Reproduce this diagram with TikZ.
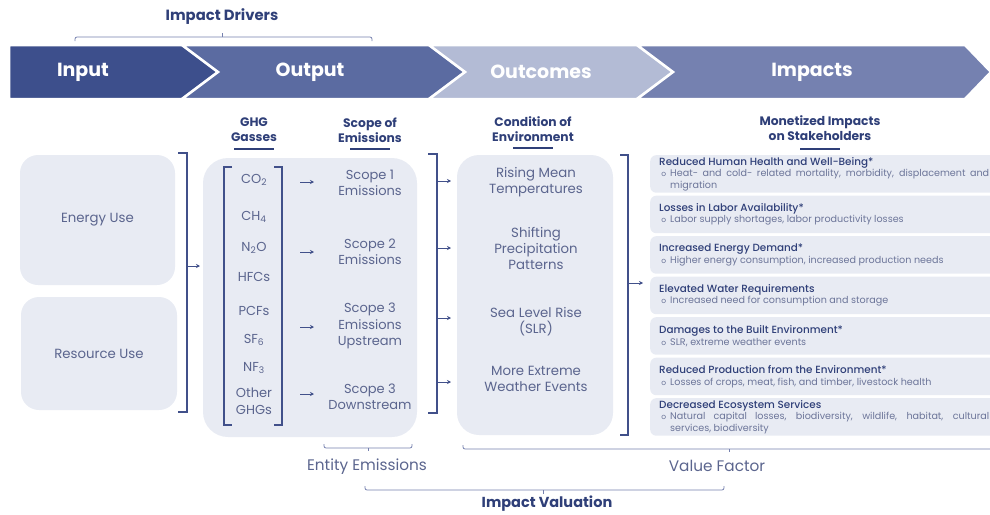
\documentclass[tikz,border=0pt]{standalone}
\usepackage{fontspec}
\setmainfont{Poppins}
\newfontfamily\medfont{Poppins Medium}
\usetikzlibrary{arrows.meta}

\definecolor{inputblue}{HTML}{3D4F8C}
\definecolor{outputblue}{HTML}{5B6BA1}
\definecolor{outcomeblue}{HTML}{B3BBD5}
\definecolor{impactblue}{HTML}{7581B0}
\definecolor{boxfill}{HTML}{E8EBF3}
\definecolor{navy}{HTML}{2F3F78}
\definecolor{bodytext}{HTML}{5B658E}
\definecolor{bullettext}{HTML}{6C7599}
\definecolor{bracketline}{HTML}{41508A}
\definecolor{braceline}{HTML}{7580AE}

\begin{document}
\begin{tikzpicture}[x=1pt, y=-1pt,
    chevron/.style={draw=white, line width=2.5pt},
    bannertext/.style={text=white, font=\bfseries\fontsize{19}{21}\selectfont},
    header/.style={text=navy, font=\bfseries\fontsize{12.3}{15}\selectfont, align=center},
    uline/.style={navy, line width=1.4pt},
    box/.style={fill=boxfill, rounded corners=18pt, inner sep=0pt},
    boxtext/.style={text=bodytext, font=\fontsize{13.3}{16}\selectfont, align=center},
    gas/.style={text=bodytext, font=\fontsize{13}{16.5}\selectfont, align=center, inner sep=0pt},
    brk/.style={bracketline, line width=1.1pt},
    arr/.style={bracketline, line width=0.9pt, -{Stealth[length=4pt, width=4pt]}},
    brace/.style={braceline, line width=0.8pt, rounded corners=2pt},
    impbox/.style={fill=boxfill, rounded corners=6pt, inner sep=0pt},
    imptext/.style={text width=330pt, align=justify, text=bullettext, inner sep=0pt,
                    font=\fontsize{9.6}{11.6}\selectfont, anchor=west},
    bottomtext/.style={text=bodytext, font=\fontsize{15.3}{17}\selectfont},
]
\useasboundingbox (0,0) rectangle (990,514);
\clip (0,0) rectangle (990,514);

% Banner of four chevrons
\filldraw[chevron, fill=inputblue] (9,45) -- (182,45) -- (218,72) -- (182,99) -- (9,99) -- cycle;
\filldraw[chevron, fill=outputblue] (182,45) -- (429,45) -- (465,72) -- (429,99) -- (182,99) -- (218,72) -- cycle;
\filldraw[chevron, fill=outcomeblue] (429,45) -- (637,45) -- (673,72) -- (637,99) -- (429,99) -- (465,72) -- cycle;
\filldraw[chevron, fill=impactblue] (637,45) -- (965,45) -- (991,72) -- (965,99) -- (637,99) -- (673,72) -- cycle;
\node[bannertext] (input) at (83,72) {Input};
\node[bannertext] (output) at (310,72) {Output};
\node[bannertext] (outcomes) at (541,72) {Outcomes};
\node[bannertext] (impacts) at (812,72) {Impacts};

% Impact drivers over input and output
\node[header, font=\bfseries\fontsize{14.8}{17}\selectfont] (drivers) at (222,17) {Impact Drivers};
\draw[brace] (75,41) -- (75,37) -- (372,37) -- (372,41);
\draw[braceline, line width=0.8pt] (drivers.south |- 0,37) -- ++(0,-4);

% Column headers
\node[header] (ghg) at (254,130) {GHG\\Gasses};
\node[header] (scope) at (370,130) {Scope of\\Emissions};
\node[header] (cond) at (533,129) {Condition of\\Environment};
\node[header] (money) at (820,128) {Monetized Impacts\\on Stakeholders};
\foreach \h/\yy in {ghg/149, scope/149, cond/148, money/149}{
  \draw[uline] (\h.south |- 0,\yy) ++(-20,0) -- ++(40,0);
}

% Inputs
\node[box, minimum width=155, minimum height=130] (energy) at (97.5,220) {};
\node[boxtext] at (energy) {Energy Use};
\node[box, minimum width=156, minimum height=113] (resource) at (99,353.5) {};
\node[boxtext] at (resource) {Resource Use};
\draw[brk] (178,153) -- (187,153) -- (187,412) -- (178,412);
\coordinate (inarr) at (187,266);
\draw[arr] (inarr) -- ++(13,0);

% Output: gases and scopes
\node[box, rounded corners=25pt, minimum width=214, minimum height=279] (outbox) at (310,297.5) {};
\draw[brk] (232,167) -- (224,167) -- (224,425) -- (232,425);
\draw[brk] (274,167) -- (282,167) -- (282,425) -- (274,425);
\foreach \g/\yy [count=\k] in {CO\textsubscript{2}/180, CH\textsubscript{4}/217,
    N\textsubscript{2}O/248, HFCs/277, PCFs/311, SF\textsubscript{6}/340,
    NF\textsubscript{3}/368, {Other\\GHGs}/401}{
  \node[gas] (gas\k) at (254,\yy) {\g};
}
\foreach \s/\yy [count=\k] in {{Scope 1\\Emissions}/183, {Scope 2\\Emissions}/252,
    {Scope 3\\Emissions\\Upstream}/326, {Scope 3\\Downstream}/397}{
  \node[gas] (scope\k) at (370,\yy) {\s};
}
\foreach \yy [count=\k] in {182, 252, 327, 394}{
  \coordinate (sa\k) at (300,\yy);
  \draw[arr] (sa\k) -- ++(14,0);
}
\draw[brk] (428,154) -- (437,154) -- (437,413) -- (428,413);
\foreach \yy [count=\k] in {181, 248, 318, 382}{
  \coordinate (oa\k) at (437,\yy);
  \draw[arr] (oa\k) -- ++(14,0);
}

% Outcomes: condition of environment
\node[box, rounded corners=22pt, minimum width=156, minimum height=280] (ocbox) at (535,295) {};
\foreach \o/\yy [count=\k] in {{Rising Mean\\Temperatures}/182,
    {Shifting\\Precipitation\\Patterns}/248, {Sea Level Rise\\(SLR)}/322,
    {More Extreme\\Weather Events}/379}{
  \node[gas, font=\fontsize{13.3}{16}\selectfont] (cond\k) at (536,\yy) {\o};
}
\draw[brk] (620,155) -- (628,155) -- (628,435) -- (620,435);
\coordinate (ia) at (628,283);
\draw[arr] (ia) -- ++(15,0);

% Impacts: monetized impacts on stakeholders
\foreach \i/\ttl/\txt in {
  0/{Reduced Human Health and Well-Being*}/{Heat- and cold- related mortality, morbidity, displacement and\linebreak migration},
  1/{Losses in Labor Availability*}/{Labor supply shortages, labor productivity losses},
  2/{Increased Energy Demand*}/{Higher energy consumption, increased production needs},
  3/{Elevated Water Requirements}/{Increased need for consumption and storage},
  4/{Damages to the Built Environment*}/{SLR, extreme weather events},
  5/{Reduced Production from the Environment*}/{Losses of crops, meat, fish, and timber, livestock health},
  6/{Decreased Ecosystem Services}/{Natural capital losses, biodiversity, wildlife, habitat, cultural\linebreak services, biodiversity}}{
  \pgfmathsetmacro\boxy{155+40.5*\i}
  \node[impbox, minimum width=360, minimum height=37.5, anchor=north west] (imp\i) at (650,\boxy) {};
  \node[imptext] (impt\i) at ([xshift=9pt]imp\i.west)
    {{\medfont\color{navy}\fontsize{10.4}{11.6}\selectfont \ttl\par}
     \leftskip=11pt\noindent\llap{{\fontsize{7.5}{7.5}\selectfont o}\hspace{4pt}}\txt\par};
}

% Valuation braces along the bottom
\draw[brace] (324,444) -- (324,448) -- (412,448) -- (412,444);
\draw[braceline, line width=0.8pt] (368,448) -- ++(0,3);
\node[bottomtext] (entity) at (367,467) {Entity Emissions};
\draw[brace] (463,445) -- (463,449) -- (1000,449);
\draw[braceline, line width=0.8pt] (729,449) -- ++(0,3);
\node[bottomtext] (value) at (717,466) {Value Factor};
\draw[brace] (365,486) -- (365,490) -- (724,490) -- (724,486);
\draw[braceline, line width=0.8pt] (543,490) -- ++(0,4);
\node[header, font=\bfseries\fontsize{14.5}{17}\selectfont] (valuation) at (547,504) {Impact Valuation};

\end{tikzpicture}
\end{document}
